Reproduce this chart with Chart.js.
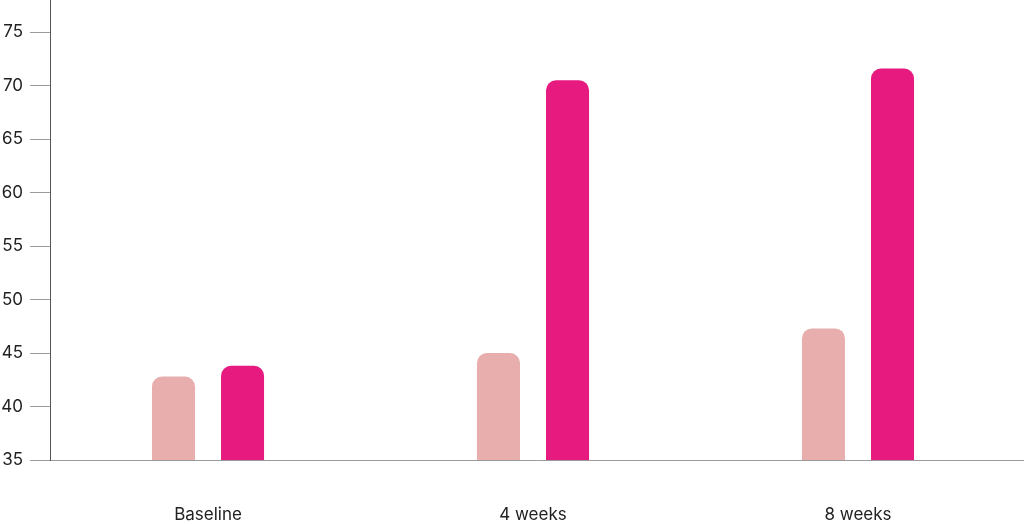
<!DOCTYPE html>
<html>
<head>
<meta charset="utf-8">
<script src="https://cdn.jsdelivr.net/npm/chart.js@4/dist/chart.umd.min.js"></script>
<style>
  html, body { margin: 0; padding: 0; background: #fff; }
  #wrap { width: 1024px; height: 524px; }
</style>
</head>
<body>
<div id="wrap"><canvas id="c" width="1024" height="524"></canvas></div>
<script>
const categories = ['Baseline', '4 weeks', '8 weeks'];
const seriesA = [42.8, 45.0, 47.3];
const seriesB = [43.8, 70.5, 71.6];
const yTicks = [35, 40, 45, 50, 55, 60, 65, 70, 75];

const toPoints = arr => arr.map((v, i) => ({ x: i, y: v }));

new Chart(document.getElementById('c'), {
  type: 'bar',
  data: {
    datasets: [
      { label: 'A', data: toPoints(seriesA), backgroundColor: '#E8AEAE',
        borderRadius: { topLeft: 10, topRight: 10 }, borderSkipped: 'bottom',
        categoryPercentage: 0.425, barPercentage: 0.623 },
      { label: 'B', data: toPoints(seriesB), backgroundColor: '#E61A7F',
        borderRadius: { topLeft: 10, topRight: 10 }, borderSkipped: 'bottom',
        categoryPercentage: 0.425, barPercentage: 0.623 }
    ]
  },
  options: {
    responsive: false,
    animation: false,
    devicePixelRatio: 1,
    layout: { padding: 0, autoPadding: false },
    plugins: { legend: { display: false }, tooltip: { enabled: false } },
    scales: {
      x: {
        type: 'linear',
        offset: false,
        min: -0.4862,
        max: 2.5108,
        afterBuildTicks: s => { s.ticks = categories.map((c, i) => ({ value: i })); },
        afterFit: s => { s.height = 64; s.paddingLeft = 0; s.paddingRight = 0; },
        grid: { display: false, offset: false },
        border: { display: true, color: '#9a9a9a', width: 1 },
        ticks: {
          callback: v => categories[v],
          color: '#222',
          font: { family: 'Inter', size: 17 },
          padding: 37,
          maxRotation: 0
        }
      },
      y: {
        min: 35,
        max: 78,
        afterBuildTicks: s => { s.ticks = yTicks.map(v => ({ value: v })); },
        afterFit: s => { s.width = 50; s.paddingTop = 0; s.paddingBottom = 0; },
        grid: { drawOnChartArea: false, drawTicks: true, tickLength: 20, color: '#9a9a9a' },
        border: { display: true, color: '#555', width: 1 },
        ticks: {
          color: '#222',
          font: { family: 'Inter', size: 17 },
          padding: 7
        }
      }
    }
  }
});
</script>
</body>
</html>
